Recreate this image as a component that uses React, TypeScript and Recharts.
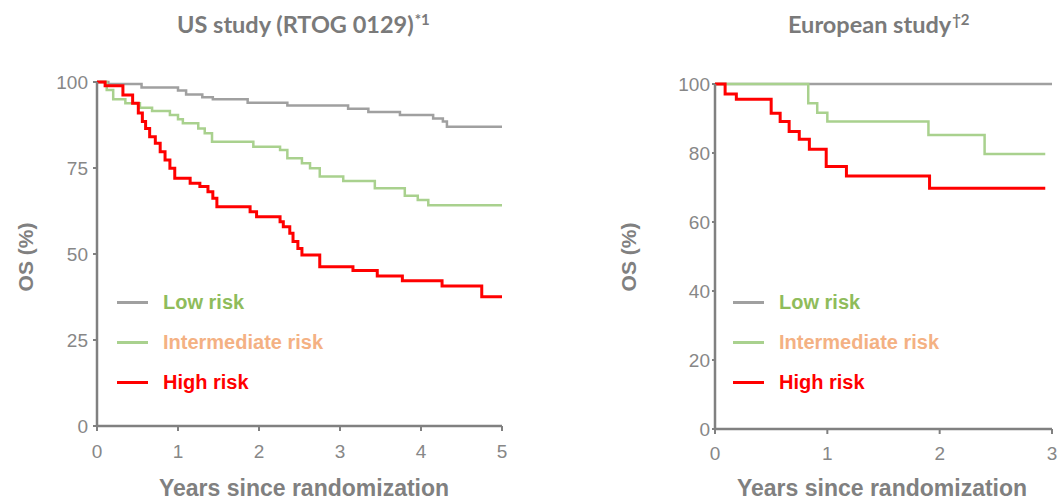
import React from 'react';
import { LineChart, Line, XAxis, YAxis, Legend } from 'recharts';

type Pt = { t: number; os: number };

// US study (RTOG 0129), years vs OS %
const usLowRisk: Pt[] = [
  { t: 0, os: 100 }, { t: 0.14, os: 99.4 }, { t: 0.55, os: 98.4 }, { t: 1.0, os: 97.5 },
  { t: 1.1, os: 96.4 }, { t: 1.3, os: 95.6 }, { t: 1.43, os: 95 }, { t: 1.86, os: 94 },
  { t: 2.35, os: 93.2 }, { t: 3.1, os: 92.2 }, { t: 3.35, os: 91.3 }, { t: 3.74, os: 90.4 },
  { t: 4.15, os: 89.4 }, { t: 4.27, os: 88.5 }, { t: 4.32, os: 87 }, { t: 5, os: 87 },
];
const usIntermediateRisk: Pt[] = [
  { t: 0, os: 100 }, { t: 0.12, os: 97.7 }, { t: 0.2, os: 95 }, { t: 0.35, os: 93.8 },
  { t: 0.53, os: 92.5 }, { t: 0.68, os: 91.6 }, { t: 0.9, os: 90.4 }, { t: 1.0, os: 89.2 },
  { t: 1.06, os: 88 }, { t: 1.25, os: 86.5 }, { t: 1.33, os: 85.1 }, { t: 1.42, os: 82.6 },
  { t: 1.93, os: 81.2 }, { t: 2.26, os: 80.2 }, { t: 2.35, os: 77.8 }, { t: 2.53, os: 76.4 },
  { t: 2.63, os: 74.9 }, { t: 2.75, os: 72.5 }, { t: 3.04, os: 71.2 }, { t: 3.43, os: 69.1 },
  { t: 3.8, os: 66.9 }, { t: 3.96, os: 65.7 }, { t: 4.09, os: 64.2 }, { t: 5, os: 64.2 },
];
const usHighRisk: Pt[] = [
  { t: 0, os: 100 }, { t: 0.1, os: 98.9 }, { t: 0.32, os: 96.2 }, { t: 0.44, os: 93.8 },
  { t: 0.51, os: 91 }, { t: 0.56, os: 88.5 }, { t: 0.6, os: 86.5 }, { t: 0.65, os: 84.1 },
  { t: 0.72, os: 82.2 }, { t: 0.78, os: 79.7 }, { t: 0.84, os: 77.3 }, { t: 0.9, os: 74.9 },
  { t: 0.96, os: 72 }, { t: 1.15, os: 70.6 }, { t: 1.27, os: 69.6 }, { t: 1.37, os: 68.1 },
  { t: 1.43, os: 66.2 }, { t: 1.48, os: 63.7 }, { t: 1.89, os: 62.3 }, { t: 1.97, os: 60.8 },
  { t: 2.26, os: 59.4 }, { t: 2.3, os: 57.9 }, { t: 2.38, os: 56 }, { t: 2.42, os: 53.6 },
  { t: 2.48, os: 51.6 }, { t: 2.53, os: 49.7 }, { t: 2.75, os: 46.3 }, { t: 3.16, os: 45.2 },
  { t: 3.46, os: 43.6 }, { t: 3.77, os: 42.2 }, { t: 4.26, os: 40.7 }, { t: 4.75, os: 37.6 },
  { t: 5, os: 37.6 },
];

// European study
const euLowRisk: Pt[] = [{ t: 0, os: 100 }, { t: 3, os: 100 }];
const euIntermediateRisk: Pt[] = [
  { t: 0, os: 100 }, { t: 0.83, os: 94.4 }, { t: 0.91, os: 91.7 }, { t: 1.0, os: 89.1 },
  { t: 1.9, os: 85.2 }, { t: 2.4, os: 79.7 }, { t: 2.94, os: 79.7 },
];
const euHighRisk: Pt[] = [
  { t: 0, os: 100 }, { t: 0.09, os: 97.1 }, { t: 0.19, os: 95.6 }, { t: 0.5, os: 91.5 },
  { t: 0.58, os: 89.1 }, { t: 0.66, os: 86.2 }, { t: 0.75, os: 84 }, { t: 0.84, os: 81.1 },
  { t: 0.99, os: 76.1 }, { t: 1.17, os: 73.3 }, { t: 1.91, os: 69.8 }, { t: 2.94, os: 69.8 },
];

const usXTicks = [0, 1, 2, 3, 4, 5];
const usYTicks = [0, 25, 50, 75, 100];
const euXTicks = [0, 1, 2, 3];
const euYTicks = [0, 20, 40, 60, 80, 100];

const riskNames = ['Low risk', 'Intermediate risk', 'High risk'];
const lineColors = ['#a0a0a0', '#a9d18e', '#ff0000'];
const lineWidths = [2.5, 2.5, 3];
const labelColors = ['#8fbc5b', '#f4b183', '#ff0000'];

const AXIS = '#808080';
const ARIAL = '"Liberation Sans", Arial, sans-serif';

const RiskLegend = () => (
  <div style={{ fontFamily: ARIAL, fontWeight: 'bold', fontSize: 20 }}>
    {riskNames.map((name, i) => (
      <div key={name} style={{ height: 40, display: 'flex', alignItems: 'center' }}>
        <span style={{ display: 'inline-block', width: 31, height: 3, background: lineColors[i], marginRight: 15 }} />
        <span style={{ color: labelColors[i] }}>{name}</span>
      </div>
    ))}
  </div>
);

interface KMProps {
  left: number;
  width: number;
  margin: { top: number; right: number; bottom: number; left: number };
  yWidth: number;
  yTickSize: number;
  yTickMargin: number;
  xTickMargin: number;
  xMax: number;
  xTicks: number[];
  yTicks: number[];
  series: Pt[][];
  legendLeft: number;
}

const tickFont = { fill: '#878787', fontSize: 19, fontFamily: ARIAL };

const KMChart: React.FC<KMProps> = ({ left, width, margin, yWidth, yTickSize, yTickMargin, xTickMargin, xMax, xTicks, yTicks, series, legendLeft }) => (
  <div style={{ position: 'absolute', left, top: 0 }}>
    <LineChart width={width} height={504} margin={margin}>
      <XAxis
        type="number"
        dataKey="t"
        domain={[0, xMax]}
        ticks={xTicks}
        height={30}
        tickSize={5}
        tickMargin={xTickMargin}
        axisLine={{ stroke: AXIS, strokeWidth: 2.5 }}
        tickLine={{ stroke: AXIS, strokeWidth: 2 }}
        tick={tickFont}
      />
      <YAxis
        type="number"
        domain={[0, 100]}
        ticks={yTicks}
        width={yWidth}
        tickSize={yTickSize}
        tickMargin={yTickMargin}
        axisLine={{ stroke: AXIS, strokeWidth: 2.5 }}
        tickLine={{ stroke: AXIS, strokeWidth: 2 }}
        tick={tickFont}
      />
      {series.map((d, i) => (
        <Line
          key={riskNames[i]}
          name={riskNames[i]}
          data={d}
          dataKey="os"
          type="stepAfter"
          stroke={lineColors[i]}
          strokeWidth={lineWidths[i]}
          dot={false}
          activeDot={false}
          isAnimationActive={false}
        />
      ))}
      <Legend
        layout="vertical"
        align="center"
        verticalAlign="middle"
        content={() => <RiskLegend />}
        wrapperStyle={{ left: legendLeft, top: 282, width: 300, height: 120 }}
      />
    </LineChart>
  </div>
);

const titleStyle: React.CSSProperties = {
  position: 'absolute',
  top: 10,
  fontFamily: 'Lato, "Open Sans", sans-serif',
  fontWeight: 'bold',
  fontSize: 23.5,
  color: '#7a7a7a',
  whiteSpace: 'nowrap',
  lineHeight: '28px',
};

const axisTitle: React.CSSProperties = {
  position: 'absolute',
  fontFamily: ARIAL,
  fontWeight: 'bold',
  color: '#808080',
  whiteSpace: 'nowrap',
  lineHeight: 1,
};

const sup: React.CSSProperties = { fontSize: 15, verticalAlign: 'top', position: 'relative', top: -5, marginLeft: 1 };

export default function App() {
  return (
    <div style={{ position: 'absolute', left: 0, top: 0, width: 1059, height: 504, overflow: 'hidden', background: '#fff' }}>
      <KMChart
        left={0}
        width={530}
        margin={{ top: 82, right: 28, bottom: 48, left: 0 }}
        yWidth={97}
        yTickSize={4}
        yTickMargin={5}
        xTickMargin={14}
        xMax={5}
        xTicks={usXTicks}
        yTicks={usYTicks}
        series={[usLowRisk, usIntermediateRisk, usHighRisk]}
        legendLeft={117}
      />
      <KMChart
        left={530}
        width={529}
        margin={{ top: 84, right: 7, bottom: 45, left: 0 }}
        yWidth={185}
        yTickSize={3}
        yTickMargin={2}
        xTickMargin={13}
        xMax={3}
        xTicks={euXTicks}
        yTicks={euYTicks}
        series={[euLowRisk, euIntermediateRisk, euHighRisk]}
        legendLeft={203}
      />

      <div style={{ ...titleStyle, left: 177 }}>
        US study (RTOG 0129)<span style={sup}>*1</span>
      </div>
      <div style={{ ...titleStyle, left: 788 }}>
        European study<span style={sup}>†2</span>
      </div>

      <div style={{ ...axisTitle, fontSize: 21, left: 25, top: 257, transform: 'translate(-50%, -50%) rotate(-90deg)' }}>OS (%)</div>
      <div style={{ ...axisTitle, fontSize: 21, left: 628, top: 257, transform: 'translate(-50%, -50%) rotate(-90deg)' }}>OS (%)</div>
      <div style={{ ...axisTitle, fontSize: 23, left: 304, top: 477, transform: 'translateX(-50%)' }}>Years since randomization</div>
      <div style={{ ...axisTitle, fontSize: 23, left: 882, top: 477, transform: 'translateX(-50%)' }}>Years since randomization</div>
    </div>
  );
}
